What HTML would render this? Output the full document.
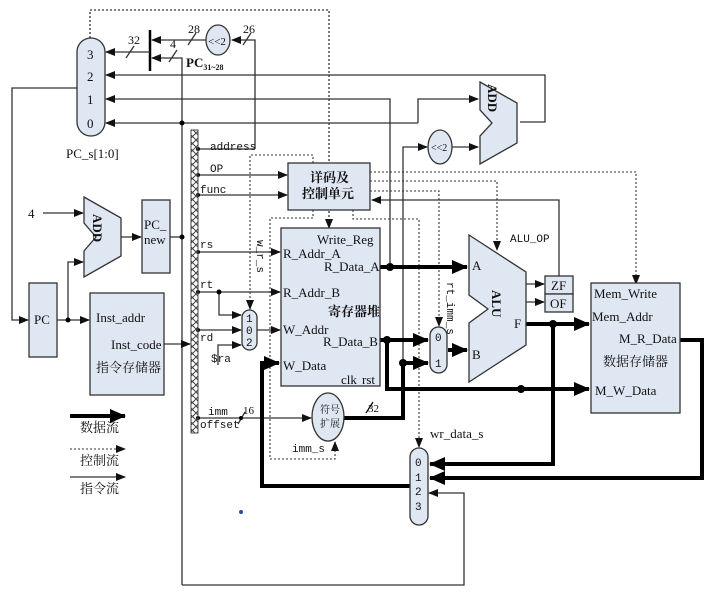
<!DOCTYPE html>
<html><head><meta charset="utf-8"><style>
html,body{margin:0;padding:0;background:#fff;}
svg{display:block;}
text{font-family:"Liberation Serif","Noto Serif CJK SC",serif;fill:#111;}
.m{font-family:"Liberation Mono","Noto Sans CJK SC",monospace;font-size:11px;}
</style></head><body>
<svg width="720" height="598" viewBox="0 0 720 598" xmlns="http://www.w3.org/2000/svg">
<defs>
<marker id="a" markerWidth="10" markerHeight="8" refX="9" refY="4" orient="auto" markerUnits="userSpaceOnUse"><path d="M0,0 L10,4 L0,8 z" fill="#111"/></marker>
<marker id="b" markerWidth="16" markerHeight="14" refX="15" refY="7" orient="auto" markerUnits="userSpaceOnUse"><path d="M0,0 L16,7 L0,14 z" fill="#000"/></marker>
<pattern id="h" width="7" height="7" patternUnits="userSpaceOnUse"><path d="M0,0 L7,7 M7,0 L0,7" stroke="#444" stroke-width="1"/></pattern>
</defs>
<g fill="none" stroke="#333" stroke-width="1.3">
<path d="M90,38 V10 H329 V228" stroke-dasharray="2,2" marker-end="url(#a)"/>
<path d="M150,30 V71" stroke="#000" stroke-width="2.5"/>
<path d="M150,52 H106" marker-end="url(#a)"/>
<path d="M206,40 H152" marker-end="url(#a)"/>
<path d="M255,149 V40 H232" marker-end="url(#a)"/>
<path d="M182,585 V58 H152" marker-end="url(#a)"/>
<path d="M126,58 L134,46 M169,62 L177,50 M188,45 L196,33 M243,45 L251,33"/>
<path d="M520,122 H545 V75 H106" marker-end="url(#a)"/>
<path d="M390,267 V99 H106" marker-end="url(#a)"/>
<path d="M418,123 H106" marker-end="url(#a)"/>
<path d="M418,123 V99 H478" marker-end="url(#a)"/>
<path d="M403,418 V147 H427" marker-end="url(#a)"/>
<path d="M452,147 H478" marker-end="url(#a)"/>
<path d="M77,88 H12 V320 H28" marker-end="url(#a)"/>
<path d="M57,320 H89" marker-end="url(#a)"/>
<path d="M68,320 V262 H83" marker-end="url(#a)"/>
<path d="M43,213 H83" marker-end="url(#a)"/>
<path d="M121,237 H141" marker-end="url(#a)"/>
<path d="M170,237 H182"/>
<path d="M164,344 H190" marker-end="url(#a)"/>
<path d="M198,149 H255"/>
<path d="M198,175 H287" marker-end="url(#a)"/>
<path d="M198,195 H287" marker-end="url(#a)"/>
<path d="M198,252 H280" marker-end="url(#a)"/>
<path d="M198,292 H280" marker-end="url(#a)"/>
<path d="M219,292 V315 H241" marker-end="url(#a)"/>
<path d="M198,330 H241" marker-end="url(#a)"/>
<path d="M218,365 V345 H241" marker-end="url(#a)"/>
<path d="M257,330 H280" marker-end="url(#a)"/>
<path d="M198,418 H311" marker-end="url(#a)"/>
<path d="M238,424 L245,412"/>
<path d="M559,276 V200 H372" marker-end="url(#a)"/>
<path d="M526,284 H544" marker-end="url(#a)"/>
<path d="M526,302 H544" marker-end="url(#a)"/>
<path d="M182,585 H464 V493 H429" marker-end="url(#a)"/>
<g stroke-dasharray="2,2" stroke-width="1.1">
<path d="M370,172 H636 V284" marker-end="url(#a)"/>
<path d="M370,181 H497 V250" marker-end="url(#a)"/>
<path d="M370,191 H439 V326" marker-end="url(#a)"/>
<path d="M353,210 V219 H419 V447" marker-end="url(#a)"/>
<path d="M313,163 V155 H250 V309" marker-end="url(#a)"/>
<path d="M313,210 V218 H270 V459 H335 V442" marker-end="url(#a)"/>
</g>
</g>
<g fill="none" stroke="#000" stroke-width="4">
<path d="M380,267 H467" marker-end="url(#b)"/>
<path d="M380,340 H428" marker-end="url(#b)"/>
<path d="M387,340 V389 H589" marker-end="url(#b)"/>
<path d="M448,350 H467" marker-end="url(#b)"/>
<path d="M344,418 H403 V363 H428" marker-end="url(#b)"/>
<path d="M526,324 H589" marker-end="url(#b)"/>
<path d="M553,324 V464 H430" marker-end="url(#b)"/>
<path d="M680,340 H702 V478 H430" marker-end="url(#b)"/>
<path d="M410,486 H262 V363 H279" marker-end="url(#b)"/>
<path d="M366,413 L373,402" stroke-width="1.2"/>
</g>
<g fill="#000">
<circle cx="182" cy="123" r="2.5"/><circle cx="182" cy="237" r="2.5"/><circle cx="68" cy="320" r="2.5"/>
<circle cx="198" cy="149" r="2"/><circle cx="198" cy="175" r="2"/><circle cx="198" cy="195" r="2"/><circle cx="198" cy="252" r="2"/><circle cx="198" cy="292" r="2"/><circle cx="219" cy="292" r="2.5"/><circle cx="198" cy="330" r="2"/><circle cx="198" cy="418" r="2"/><circle cx="241" cy="418" r="2"/>
<circle cx="390" cy="267" r="4"/><circle cx="387" cy="340" r="4"/><circle cx="403" cy="363" r="4"/><circle cx="553" cy="324" r="4"/><circle cx="521" cy="389" r="4"/>
<circle cx="241" cy="512" r="2" fill="#2a4a9a"/>
</g>
<g fill="#dfe7f3" stroke="#333" stroke-width="1.3">
<rect x="77" y="38" width="28" height="98" rx="14"/>
<ellipse cx="218" cy="40" rx="12" ry="15"/>
<polygon points="480,82 517,103 517,143 480,164 480,136 492,123 480,110"/>
<ellipse cx="440" cy="147" rx="12" ry="17"/>
<polygon points="84,197 121,218 121,256 84,277 84,251 96,237 84,223"/>
<rect x="142" y="200" width="28" height="73"/>
<rect x="29" y="283" width="28" height="74"/>
<rect x="90" y="293" width="74" height="102"/>
<rect x="288" y="163" width="82" height="47"/>
<rect x="281" y="228" width="99" height="158"/>
<rect x="242" y="310" width="15" height="40" rx="7.5"/>
<ellipse cx="328" cy="417" rx="16" ry="24"/>
<polygon points="469,235 526,272 526,345 469,382 469,323 488,309 469,295"/>
<rect x="545" y="276" width="28" height="18"/>
<rect x="545" y="294" width="28" height="18"/>
<rect x="591" y="283" width="89" height="130"/>
<rect x="430" y="327" width="17" height="46" rx="8.5"/>
<rect x="410" y="448" width="18" height="77" rx="9"/>
</g>
<rect x="191" y="130" width="7" height="303" fill="url(#h)" stroke="#444"/>
<path d="M70,416 H125" stroke="#000" stroke-width="4" marker-end="url(#b)"/>
<path d="M70,449 H125" stroke="#333" stroke-dasharray="2,2" marker-end="url(#a)"/>
<path d="M70,477 H125" stroke="#333" stroke-width="1.3" marker-end="url(#a)"/>
<g font-size="13">
<text x="87" y="59">3</text><text x="87" y="81">2</text><text x="87" y="104">1</text><text x="87" y="128">0</text>
<text x="66" y="158">PC_s[1:0]</text>
<text x="128" y="44" font-size="12">32</text><text x="170" y="48" font-size="12">4</text><text x="188" y="33" font-size="12">28</text><text x="243" y="33" font-size="12">26</text>
<text x="208" y="45" font-size="11" fill="#555">&lt;&lt;2</text>
<text x="186" y="67" font-weight="bold">PC<tspan font-size="8" dy="3">31~28</tspan></text>
<text x="431" y="151" font-size="10" fill="#555">&lt;&lt;2</text>
<text x="28" y="218">4</text>
<text x="144" y="229">PC_</text><text x="144" y="244">new</text>
<text x="34" y="324">PC</text>
<text x="96" y="322">Inst_addr</text><text x="111" y="349">Inst_code</text>
<text x="96" y="372" fill="#555">指令存储器</text>
<text x="80" y="432" fill="#555">数据流</text><text x="80" y="465" fill="#555">控制流</text><text x="80" y="493" fill="#555">指令流</text>
<text x="310" y="182" font-weight="bold">详码及</text><text x="302" y="198" font-weight="bold">控制单元</text>
<text x="317" y="244">Write_Reg</text>
<text x="283" y="258">R_Addr_A</text><text x="324" y="271">R_Data_A</text>
<text x="283" y="297">R_Addr_B</text>
<text x="328" y="316" font-weight="bold">寄存器堆</text>
<text x="283" y="334">W_Addr</text><text x="323" y="346">R_Data_B</text>
<text x="283" y="370">W_Data</text><text x="341" y="384">clk</text><text x="362" y="384">rst</text>
<text x="246" y="322" class="m" font-size="10">1</text><text x="246" y="334" class="m" font-size="10">0</text><text x="246" y="346" class="m" font-size="10">2</text>
<text x="320" y="413" font-size="10" fill="#555">符号</text><text x="320" y="427" font-size="10" fill="#555">扩展</text>
<text x="368" y="412" font-size="11">32</text><text x="243" y="414" font-size="11">16</text>
<text x="210" y="150" class="m">address</text><text x="210" y="172" class="m">OP</text><text x="200" y="193" class="m">func</text>
<text x="200" y="248" class="m">rs</text><text x="200" y="288" class="m">rt</text><text x="200" y="341" class="m">rd</text>
<text x="211" y="362" class="m">$ra</text><text x="208" y="415" class="m">imm</text><text x="200" y="428" class="m">offset</text>
<text x="292" y="452" class="m">imm_s</text>
<text x="510" y="242" class="m">ALU_OP</text>
<text x="472" y="270">A</text><text x="472" y="359">B</text><text x="514" y="328">F</text>
<text x="551" y="290">ZF</text><text x="550" y="308">OF</text>
<text x="594" y="298">Mem_Write</text><text x="592" y="321">Mem_Addr</text><text x="619" y="343">M_R_Data</text>
<text x="603" y="366" fill="#555">数据存储器</text><text x="595" y="395">M_W_Data</text>
<text x="435" y="341" class="m" font-size="10">0</text><text x="435" y="367" class="m" font-size="10">1</text>
<text x="415" y="466" class="m" font-size="10">0</text><text x="415" y="481" class="m" font-size="10">1</text><text x="415" y="495" class="m" font-size="10">2</text><text x="415" y="510" class="m" font-size="10">3</text>
<text x="430" y="438" fill="#2a7ab8">wr_data_s</text>
<text transform="translate(488,84) rotate(90)" font-weight="bold" font-size="13">ADD</text>
<text transform="translate(93,214) rotate(90)" font-weight="bold" font-size="13">ADD</text>
<text transform="translate(492,290) rotate(90)" font-weight="bold" font-size="13">ALU</text>
<text transform="translate(447,282) rotate(90)" class="m">rt_imm_s</text>
<text transform="translate(257,240) rotate(90)" class="m" font-size="10">w_r_s</text>
</g>
</svg>
</body></html>
